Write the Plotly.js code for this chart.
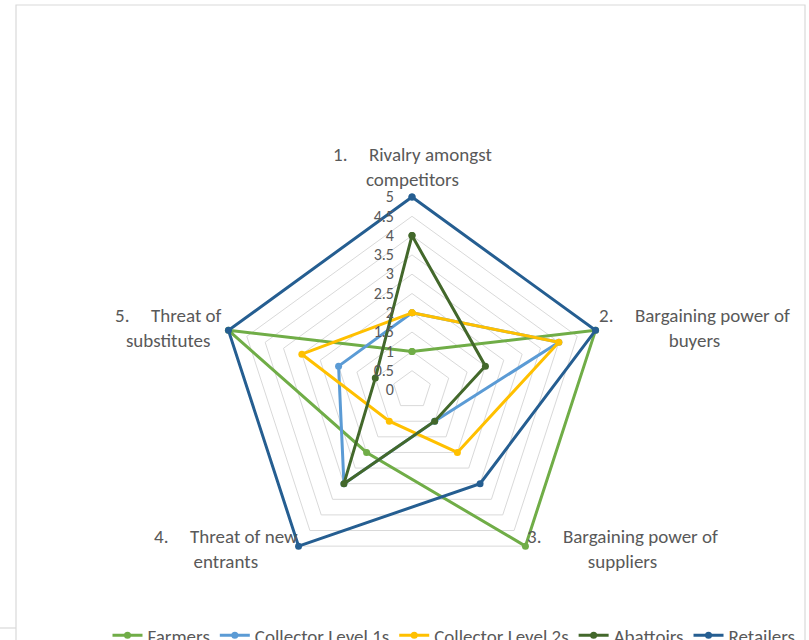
<!DOCTYPE html>
<html>
<head>
<meta charset="utf-8">
<script src="https://cdn.plot.ly/plotly-3.0.1.min.js"></script>
<style>html,body{margin:0;padding:0;background:#fff;}#chart{width:809px;height:640px;}</style>
</head>
<body>
<div id="chart"></div>
<script>
var categories = ["1. Rivalry amongst competitors", "2. Bargaining power of buyers", "3. Bargaining power of suppliers", "4. Threat of new entrants", "5. Threat of substitutes"];
var SP = "\u00a0\u00a0\u00a0\u00a0\u00a0";
var labelLines = [["1." + SP + "Rivalry amongst", "competitors"], ["2." + SP + "Bargaining power of", "buyers"], ["3." + SP + "Bargaining power of", "suppliers"], ["4." + SP + "Threat of new", "entrants"], ["5." + SP + "Threat of", "substitutes"]];
var seriesNames = ["Farmers", "Collector Level 1s", "Collector Level 2s", "Abattoirs", "Retailers"];
var farmers = [1, 5, 5, 2, 5];
var collector1 = [2, 4, 1, 3, 2];
var collector2 = [2, 4, 2, 1, 3];
var abattoirs = [4, 2, 1, 3, 1];
var retailers = [5, 5, 3, 5, 5];
var tickVals = [0, 0.5, 1, 1.5, 2, 2.5, 3, 3.5, 4, 4.5, 5];
var tickText = ["0", "0.5", "1", "1.5", "2", "2.5", "3", "3.5", "4", "4.5", "5"];

var colors = ["#70AD47", "#5B9BD5", "#FFC000", "#43682B", "#255E91"];
var allSeries = [farmers, collector1, collector2, abattoirs, retailers];
var FONT = "Carlito, Calibri, Lato, 'Open Sans', sans-serif";
var GRAY = "#595959";

var traces = allSeries.map(function (vals, i) {
  return {
    type: "scatterpolar",
    mode: "lines+markers",
    name: seriesNames[i],
    r: vals.concat([vals[0]]),
    theta: categories.concat([categories[0]]),
    line: {color: colors[i], width: 3},
    marker: {color: colors[i], size: 7},
    cliponaxis: false
  };
});

// geometry: centre (412,390) px, value 5 at 193 px
var CX = 412, CY = 390, R5 = 193, RMAX = 5.1;
var R = R5 * RMAX / 5;

var labelPos = [[412, 167], [694, 328], [622, 549], [226, 549], [168, 328]];
var annotations = labelLines.map(function (lines, i) {
  return {
    xref: "paper", yref: "paper",
    x: labelPos[i][0] / 809, y: 1 - labelPos[i][1] / 640,
    xanchor: "center", yanchor: "middle",
    text: lines.join("<br>"), showarrow: false, align: "center",
    font: {family: FONT, size: 19, color: GRAY}
  };
});

var layout = {
  width: 809, height: 640,
  margin: {l: 0, r: 0, t: 0, b: 0, autoexpand: false},
  paper_bgcolor: "#fff",
  font: {family: FONT, color: GRAY},
  showlegend: true,
  legend: {
    orientation: "h", x: 454 / 809, xanchor: "center", y: 0.037, yanchor: "top",
    font: {family: FONT, size: 19, color: GRAY}, tracegroupgap: 0
  },
  polar: {
    domain: {x: [(CX - R) / 809, (CX + R) / 809], y: [(640 - CY - R) / 640, (640 - CY + R) / 640]},
    gridshape: "linear",
    bgcolor: "rgba(0,0,0,0)",
    angularaxis: {
      type: "category", rotation: 90, direction: "clockwise",
      showticklabels: false, ticks: "", showgrid: false, showline: false
    },
    radialaxis: {
      range: [0, RMAX], angle: 90, tickangle: 90, side: "counterclockwise",
      tickvals: tickVals, ticktext: tickText,
      showline: false, ticks: "outside", ticklen: 12, tickcolor: "rgba(0,0,0,0)",
      showgrid: true, gridcolor: "#d9d9d9", gridwidth: 1,
      tickfont: {family: FONT, size: 16, color: GRAY}
    }
  },
  annotations: annotations,
  shapes: [
    {type: "rect", xref: "paper", yref: "paper", x0: 16 / 809, x1: 805 / 809, y0: -0.2, y1: 1 - 5 / 640,
     line: {color: "#d9d9d9", width: 1.2}},
    {type: "line", xref: "paper", yref: "paper", x0: 0, x1: 16 / 809, y0: 1 - 628 / 640, y1: 1 - 628 / 640,
     line: {color: "#d9d9d9", width: 1.2}}
  ]
};

Plotly.newPlot("chart", traces, layout, {displayModeBar: false, staticPlot: true});
</script>
</body>
</html>
